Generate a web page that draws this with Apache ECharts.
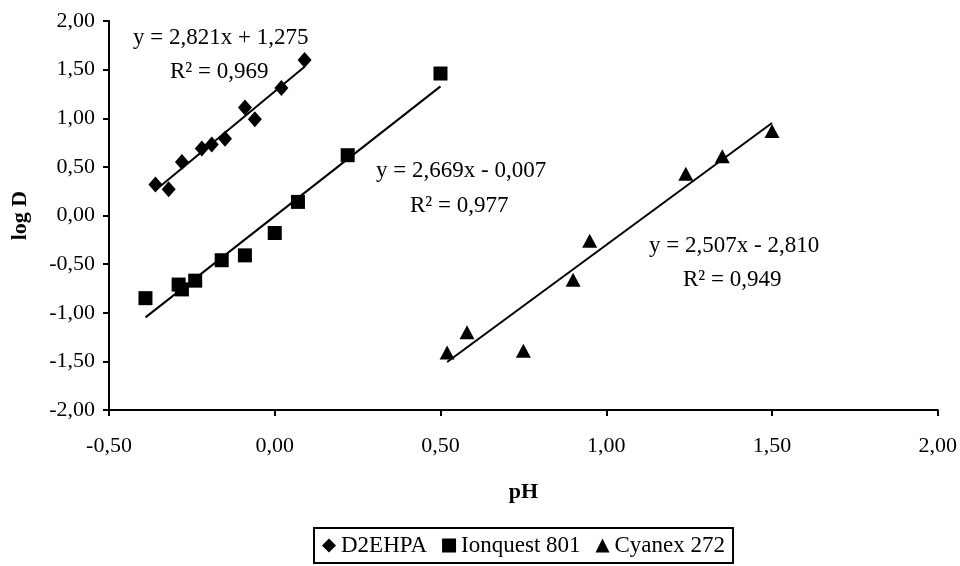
<!DOCTYPE html>
<html>
<head>
<meta charset="utf-8">
<script src="https://cdn.jsdelivr.net/npm/echarts@6/dist/echarts.min.js"></script>
<style>html,body{margin:0;padding:0;background:#fff}#c{width:960px;height:566px}</style>
</head>
<body>
<div id="c"></div>
<script>
const seriesNames = ['D2EHPA', 'Ionquest 801', 'Cyanex 272'];
const d2ehpaX = [-0.36, -0.32, -0.28, -0.22, -0.19, -0.15, -0.09, -0.06, 0.02, 0.09];
const d2ehpaY = [0.32, 0.27, 0.55, 0.69, 0.73, 0.79, 1.11, 0.99, 1.31, 1.60];
const ionquestX = [-0.39, -0.29, -0.28, -0.24, -0.16, -0.09, 0.00, 0.07, 0.22, 0.50];
const ionquestY = [-0.85, -0.71, -0.76, -0.67, -0.46, -0.41, -0.18, 0.14, 0.62, 1.46];
const cyanexX = [0.52, 0.58, 0.75, 0.90, 0.95, 1.24, 1.35, 1.50];
const cyanexY = [-1.41, -1.20, -1.39, -0.66, -0.26, 0.43, 0.61, 0.87];
const slopes = [2.821, 2.669, 2.507];
const intercepts = [1.275, -0.007, -2.810];
const eqLabels = ['y = 2,821x + 1,275', 'y = 2,669x - 0,007', 'y = 2,507x - 2,810'];
const r2Labels = ['R² = 0,969', 'R² = 0,977', 'R² = 0,949'];
const xTicks = [-0.5, 0, 0.5, 1, 1.5, 2];
const yTicks = [-2, -1.5, -1, -0.5, 0, 0.5, 1, 1.5, 2];

const FONT = '"Liberation Serif", "Times New Roman", serif';
const FS = 22;
const FS2 = 23;
const fmt = v => v.toFixed(2).replace('.', ',');
const xs = [d2ehpaX, ionquestX, cyanexX];
const ys = [d2ehpaY, ionquestY, cyanexY];
const symbols = ['diamond', 'rect', 'triangle'];
const symSizes = [[14, 16], 14, [15, 14]];

const scatter = seriesNames.map((n, i) => ({
  name: n, type: 'scatter', symbol: symbols[i], symbolSize: symSizes[i],
  itemStyle: { color: '#000', opacity: 1 },
  emphasis: { disabled: true },
  data: xs[i].map((x, j) => [x, ys[i][j]]), z: 3
}));
const trend = seriesNames.map((n, i) => {
  const x0 = Math.min(...xs[i]), x1 = Math.max(...xs[i]);
  return {
    name: n + ' trend', type: 'line', symbol: 'none', silent: true,
    lineStyle: { color: '#000', width: 2 },
    data: [[x0, slopes[i] * x0 + intercepts[i]], [x1, slopes[i] * x1 + intercepts[i]]], z: 2
  };
});

const chart = echarts.init(document.getElementById('c'), null, { renderer: 'canvas' });
const txt = (t, x, y) => ({ type: 'text', left: x, top: y, style: { text: t, font: FS2 + 'px ' + FONT, fill: '#000' } });
chart.setOption({
  backgroundColor: '#fff',
  animation: false,
  grid: { left: 109, right: 21, top: 21, bottom: 156 },
  xAxis: {
    type: 'value', min: -0.5, max: 2, interval: 0.5,
    name: 'pH', nameLocation: 'middle', nameGap: 71,
    nameTextStyle: { fontFamily: FONT, fontSize: FS, fontWeight: 'bold', color: '#000' },
    axisLine: { onZero: false, lineStyle: { color: '#000', width: 2 } },
    axisTick: { show: true, length: 6, inside: false, lineStyle: { color: '#000', width: 2 } },
    axisLabel: { fontFamily: FONT, fontSize: FS, color: '#000', margin: 25, formatter: fmt },
    splitLine: { show: false }
  },
  yAxis: {
    type: 'value', min: -2, max: 2, interval: 0.5,
    name: 'log D', nameLocation: 'middle', nameGap: 78, nameRotate: 90,
    nameTextStyle: { fontFamily: FONT, fontSize: FS, fontWeight: 'bold', color: '#000' },
    axisLine: { show: true, onZero: false, lineStyle: { color: '#000', width: 2 } },
    axisTick: { show: true, length: 6, inside: false, lineStyle: { color: '#000', width: 2 } },
    axisLabel: { fontFamily: FONT, fontSize: FS, color: '#000', margin: 14, formatter: fmt },
    splitLine: { show: false }
  },
  legend: {
    data: seriesNames.map((n, i) => ({ name: n, icon: symbols[i], itemStyle: { color: '#000', opacity: 1 } })),
    left: 314, top: 528,
    itemWidth: 14, itemHeight: 14, itemGap: 15,
    borderColor: '#000', borderWidth: 2, borderRadius: 0,
    padding: [6, 8, 6, 8],
    textStyle: { fontFamily: FONT, fontSize: FS2, color: '#000' },
    selectedMode: false
  },
  graphic: [
    txt(eqLabels[0], 133, 26), txt(r2Labels[0], 170, 60),
    txt(eqLabels[1], 376, 159), txt(r2Labels[1], 410, 194),
    txt(eqLabels[2], 649, 234), txt(r2Labels[2], 683, 268)
  ],
  series: [...trend, ...scatter]
});
</script>
</body>
</html>
